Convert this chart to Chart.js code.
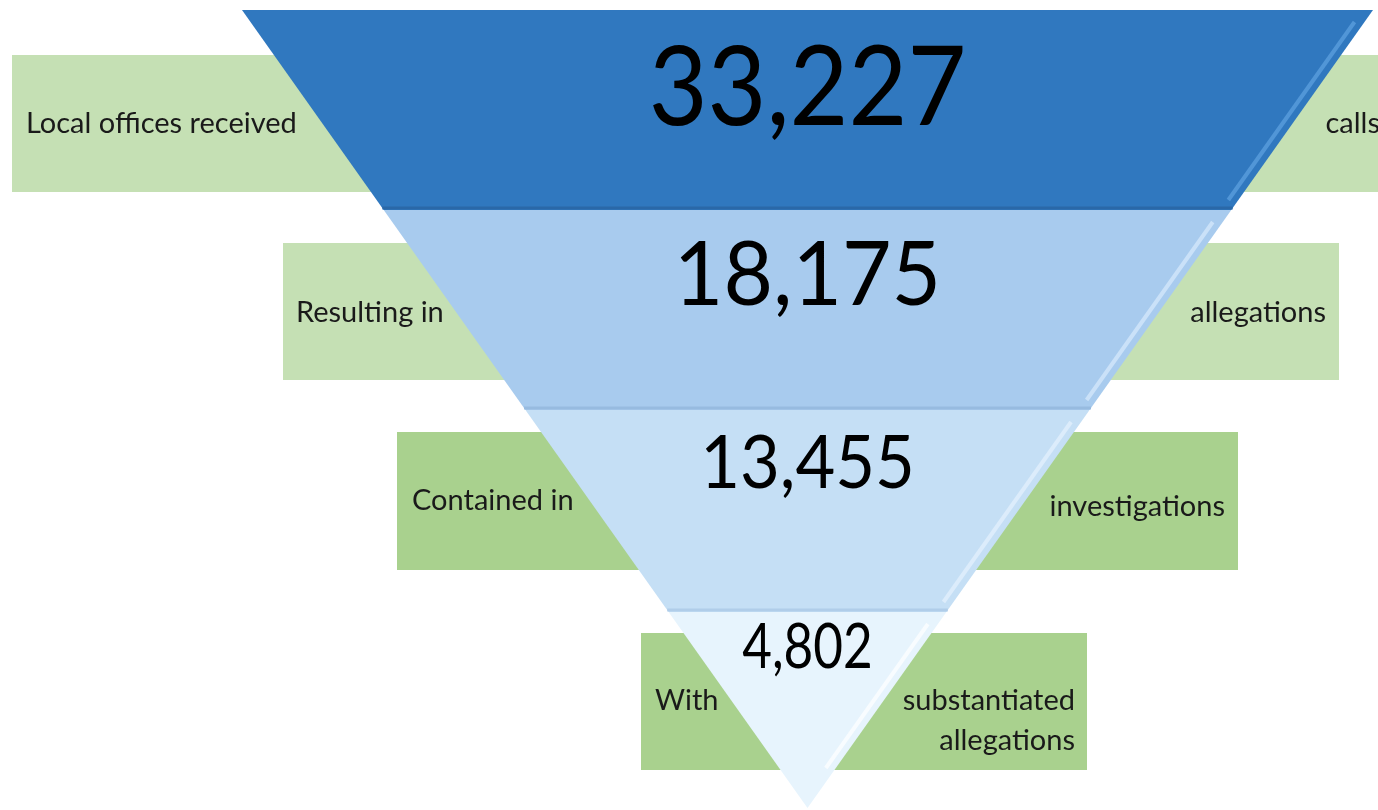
<!DOCTYPE html>
<html>
<head>
<meta charset="utf-8">
<script src="https://cdn.jsdelivr.net/npm/chart.js@4.4.1/dist/chart.umd.min.js"></script>
<style>
  html, body { margin: 0; padding: 0; background: #ffffff; }
  #wrap { width: 1378px; height: 810px; }
</style>
</head>
<body>
<div id="wrap"><canvas id="c" width="1378" height="810"></canvas></div>
<script>
// ---- data ----
const stages = ['calls', 'allegations', 'investigations', 'substantiated allegations'];
const values = [33227, 18175, 13455, 4802];
const leftLabels = ['Local offices received', 'Resulting in', 'Contained in', 'With'];
const rightLabels = [['calls'], ['allegations'], ['investigations'], ['substantiated', 'allegations']];

// ---- layout / style (drawing units = the hidden linear axes) ----
const funnel = { cx: 807.5, topY: 10, apexY: 808, halfTop: 565.5 };
const bandEdges = [10, 210, 410, 612, 808];
const bandColors = ['#3078bf', '#a8cbee', '#c5dff5', '#e7f4fd'];
const bandLines = ['#2a68a8', '#97bbe0', '#b0cde9', '#d0e3f3'];
const bandHighlights = ['rgba(110,175,235,0.55)', 'rgba(225,240,255,0.6)', 'rgba(235,245,255,0.6)', 'rgba(255,255,255,0.7)'];
const boxes = [
  { x0: 12,  x1: 1390, y0: 55,  y1: 192, color: '#c5e0b4' },
  { x0: 283, x1: 1339, y0: 243, y1: 380, color: '#c5e0b4' },
  { x0: 397, x1: 1238, y0: 432, y1: 570, color: '#a9d18e' },
  { x0: 641, x1: 1087, y0: 633, y1: 770, color: '#a9d18e' }
];
const numStyle = [
  { size: 111, base: 125, sx: 0.915 },
  { size: 90,  base: 305, sx: 0.95 },
  { size: 73,  base: 488, sx: 0.94 },
  { size: 61,  base: 668, sx: 0.84 }
];
const labelStyle = [
  { lx: 26,  rx: 1380, base: [133] },
  { lx: 296, rx: 1326, base: [322] },
  { lx: 412, rx: 1225, base: [510], rbase: [516] },
  { lx: 655, rx: 1075, base: [710], rbase: [710, 750] }
];
const labelSize = 29;
const labelSx = 1.0;
const FONT = 'Lato, "Open Sans", sans-serif';

function edgeX(y, side) {
  const h = (funnel.apexY - y) / (funnel.apexY - funnel.topY) * funnel.halfTop;
  return side < 0 ? funnel.cx - h : funnel.cx + h;
}

const datasets = [];
// highlight strokes on the bands (on top)
stages.forEach((s, i) => {
  const t = bandEdges[i], b = bandEdges[i + 1];
  const y1 = t + 12, y2 = Math.min(b - 10, funnel.apexY - 40);
  datasets.push({
    label: s + ' highlight',
    data: [
      { x: edgeX(y2, 1) - 10, y: y2 },
      { x: edgeX(y1, 1) - 10, y: y1 }
    ],
    borderColor: bandHighlights[i],
    borderWidth: 4,
    pointRadius: 0,
    tension: 0,
    fill: false
  });
  if (i < stages.length - 1) {
    datasets.push({
      label: s + ' edge',
      data: [
        { x: edgeX(b - 2, -1), y: b - 2 },
        { x: edgeX(b - 2, 1), y: b - 2 }
      ],
      borderColor: bandLines[i],
      borderWidth: 3,
      pointRadius: 0,
      tension: 0,
      fill: false
    });
  }
});
// funnel bands
stages.forEach((s, i) => {
  const t = bandEdges[i], b = bandEdges[i + 1];
  datasets.push({
    label: s,
    data: [
      { x: edgeX(t, -1), y: t },
      { x: edgeX(b, -1), y: b },
      { x: edgeX(b, 1), y: b },
      { x: edgeX(t, 1), y: t }
    ],
    backgroundColor: bandColors[i],
    borderWidth: 0,
    pointRadius: 0,
    tension: 0,
    fill: { value: t }
  });
});
// label boxes (behind)
boxes.forEach((bx, i) => {
  datasets.push({
    label: 'box ' + i,
    data: [
      { x: bx.x0, y: bx.y0 },
      { x: bx.x0, y: bx.y1 },
      { x: bx.x1, y: bx.y1 },
      { x: bx.x1, y: bx.y0 }
    ],
    backgroundColor: bx.color,
    borderWidth: 0,
    pointRadius: 0,
    tension: 0,
    fill: { value: bx.y0 }
  });
});

function drawText(ctx, text, x, y, align, size, sx) {
  ctx.save();
  ctx.font = size + 'px ' + FONT;
  ctx.textBaseline = 'alphabetic';
  ctx.textAlign = align;
  ctx.translate(x, y);
  ctx.scale(sx, 1);
  ctx.fillText(text, 0, 0);
  ctx.restore();
}

const textPlugin = {
  id: 'funnelText',
  afterDatasetsDraw(chart) {
    const ctx = chart.ctx;
    const xs = chart.scales.x, ys = chart.scales.y;
    ctx.save();
    values.forEach((v, i) => {
      const ns = numStyle[i];
      ctx.fillStyle = '#000000';
      drawText(ctx, v.toLocaleString('en-US'), xs.getPixelForValue(funnel.cx),
        ys.getPixelForValue(ns.base), 'center', ns.size, ns.sx);
      ctx.fillStyle = '#1a1a1a';
      const ls = labelStyle[i];
      drawText(ctx, leftLabels[i], xs.getPixelForValue(ls.lx), ys.getPixelForValue(ls.base[0]), 'left', labelSize, labelSx);
      const rb = ls.rbase || ls.base;
      rightLabels[i].forEach((line, j) => {
        drawText(ctx, line, xs.getPixelForValue(ls.rx), ys.getPixelForValue(rb[j]), 'right', labelSize, labelSx);
      });
    });
    ctx.restore();
  }
};

new Chart(document.getElementById('c'), {
  type: 'line',
  data: { datasets },
  options: {
    responsive: false,
    devicePixelRatio: 1,
    animation: false,
    layout: { padding: 0 },
    plugins: { legend: { display: false }, tooltip: { enabled: false }, title: { display: false } },
    scales: {
      x: { type: 'linear', min: 0, max: 1378, display: false },
      y: { type: 'linear', min: 0, max: 810, reverse: true, display: false }
    }
  },
  plugins: [textPlugin]
});
</script>
</body>
</html>
